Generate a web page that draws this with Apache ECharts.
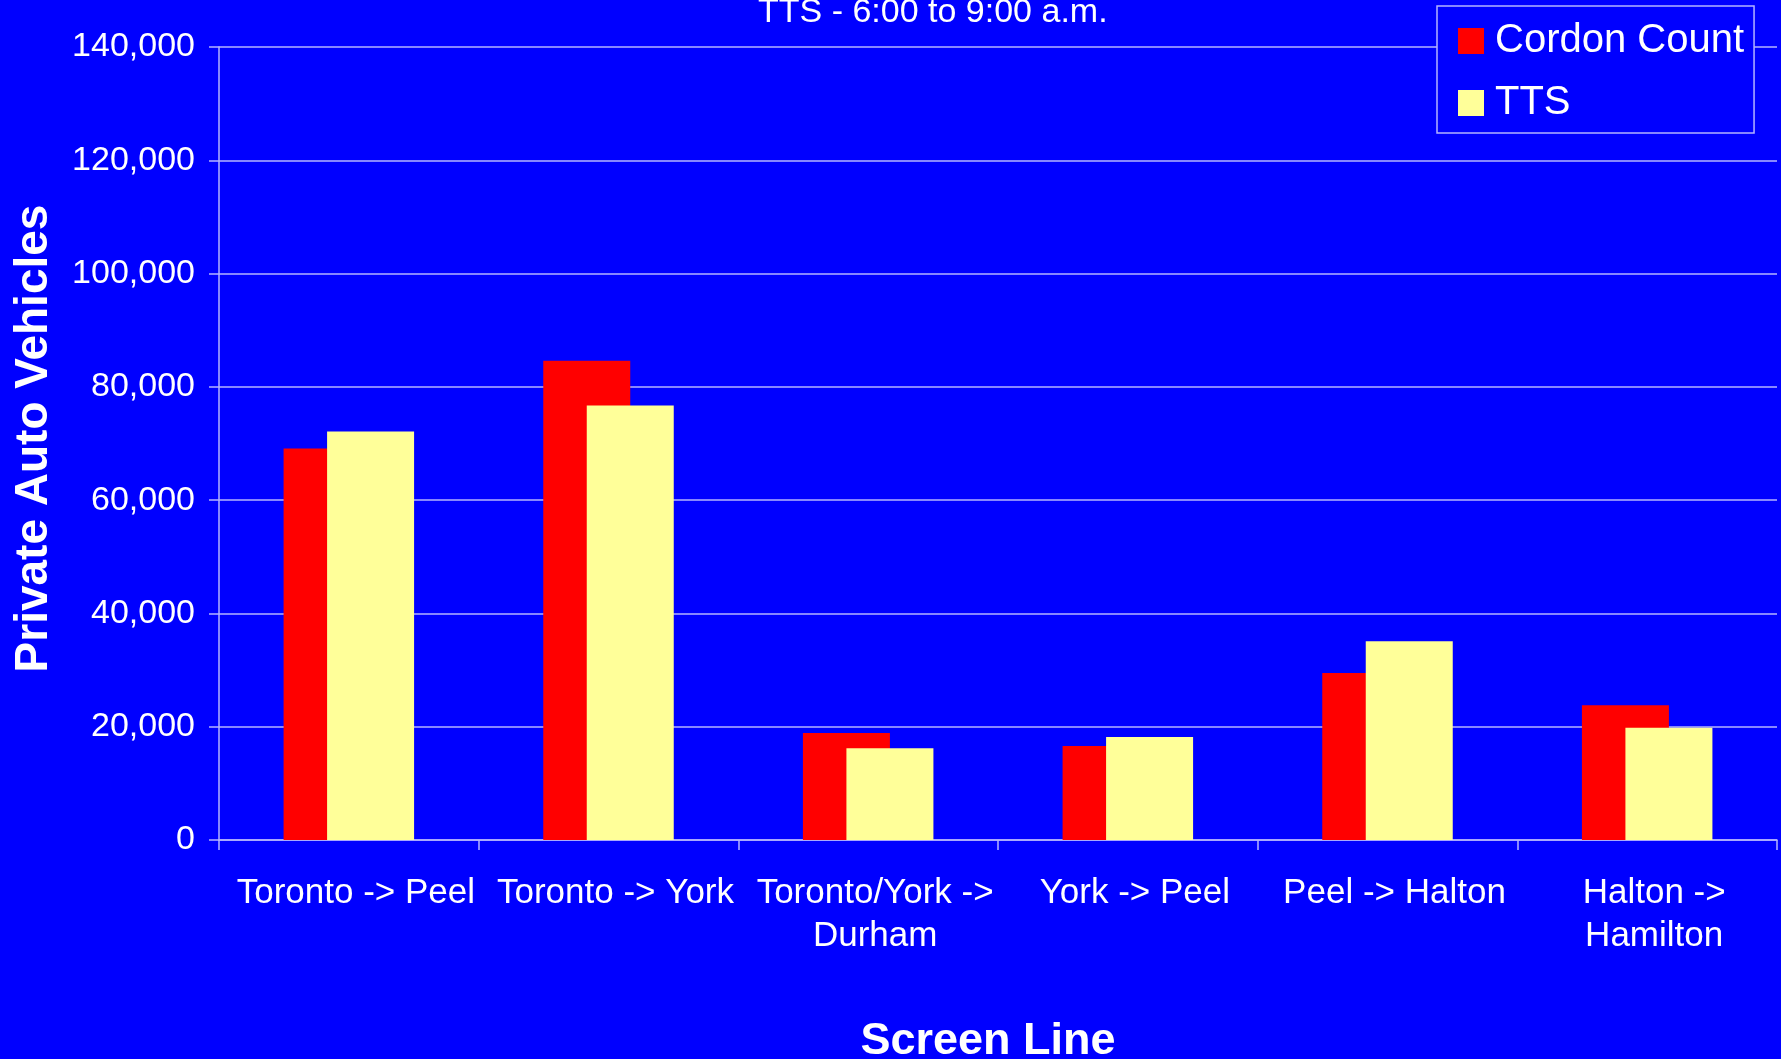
<!DOCTYPE html>
<html>
<head>
<meta charset="utf-8">
<script src="https://cdn.jsdelivr.net/npm/echarts@6/dist/echarts.min.js"></script>
<style>
html,body{margin:0;padding:0;background:#0000ff;}
#chart{width:1781px;height:1059px;}
</style>
</head>
<body>
<div id="chart"></div>
<script>
const categories = ['Toronto -> Peel', 'Toronto -> York', 'Toronto/York ->\nDurham', 'York -> Peel', 'Peel -> Halton', 'Halton ->\nHamilton'];
const cordonCount = [69100, 84600, 18900, 16600, 29500, 23800];
const tts = [72100, 76700, 16200, 18200, 35100, 19800];
const yTicks = { min: 0, max: 140000, interval: 20000 };
const titleText = 'TTS - 6:00 to 9:00 a.m.';

const FONT = '"Liberation Sans", Arial, sans-serif';
const LINE = '#b4b4ff';

const chart = echarts.init(document.getElementById('chart'), null, { renderer: 'canvas' });
chart.setOption({
  backgroundColor: '#0000ff',
  animation: false,
  graphic: [{
    type: 'text',
    left: 934 - 176,
    top: -4,
    style: { text: titleText, fill: '#ffffff', font: '34px ' + FONT }
  }],
  legend: {
    orient: 'vertical',
    left: 1437,
    top: 6,
    padding: [13, 10, 8, 21],
    backgroundColor: '#0000ff',
    borderColor: LINE,
    borderWidth: 1.5,
    itemWidth: 26,
    itemHeight: 26,
    itemGap: 18,
    icon: 'rect',
    textStyle: { color: '#ffffff', fontSize: 40, fontFamily: FONT, lineHeight: 40, padding: [4, 0, 0, 6] },
    data: ['Cordon Count', 'TTS']
  },
  grid: { left: 219, right: 4, top: 47, bottom: 219, outerBoundsMode: 'none', containLabel: false },
  xAxis: {
    type: 'category',
    data: categories,
    name: 'Screen Line',
    nameLocation: 'middle',
    nameGap: 179,
    nameTextStyle: { color: '#ffffff', fontSize: 45, fontWeight: 'bold', fontFamily: FONT, padding: [0, 20, 0, 0] },
    axisLine: { show: true, lineStyle: { color: LINE, width: 1.5 } },
    axisTick: { show: true, alignWithLabel: false, length: 10, lineStyle: { color: LINE, width: 1.5 } },
    axisLabel: { color: '#ffffff', fontSize: 35, fontFamily: FONT, lineHeight: 43, margin: 32, interval: 0, padding: [0, 0, 0, 14] },
    splitLine: { show: false }
  },
  yAxis: {
    type: 'value',
    min: yTicks.min,
    max: yTicks.max,
    interval: yTicks.interval,
    name: 'Private Auto Vehicles',
    nameLocation: 'middle',
    nameGap: 162,
    nameTextStyle: { color: '#ffffff', fontSize: 46, fontWeight: 'bold', fontFamily: FONT, padding: [0, 0, 0, 10] },
    axisLine: { show: true, lineStyle: { color: LINE, width: 1.5 } },
    axisTick: { show: true, length: 10, lineStyle: { color: LINE, width: 1.5 } },
    axisLabel: {
      color: '#ffffff', fontSize: 34, fontFamily: FONT, margin: 24, padding: [6, 0, 0, 0],
      formatter: v => v.toLocaleString('en-US')
    },
    splitLine: { show: true, lineStyle: { color: LINE, width: 1.5 } }
  },
  series: [
    {
      name: 'Cordon Count', type: 'bar', data: cordonCount,
      barWidth: 87, barGap: '-50%',
      itemStyle: { color: '#ff0000' }
    },
    {
      name: 'TTS', type: 'bar', data: tts,
      barWidth: 87, barGap: '-50%',
      itemStyle: { color: '#ffff99' }
    }
  ]
});
</script>
</body>
</html>
